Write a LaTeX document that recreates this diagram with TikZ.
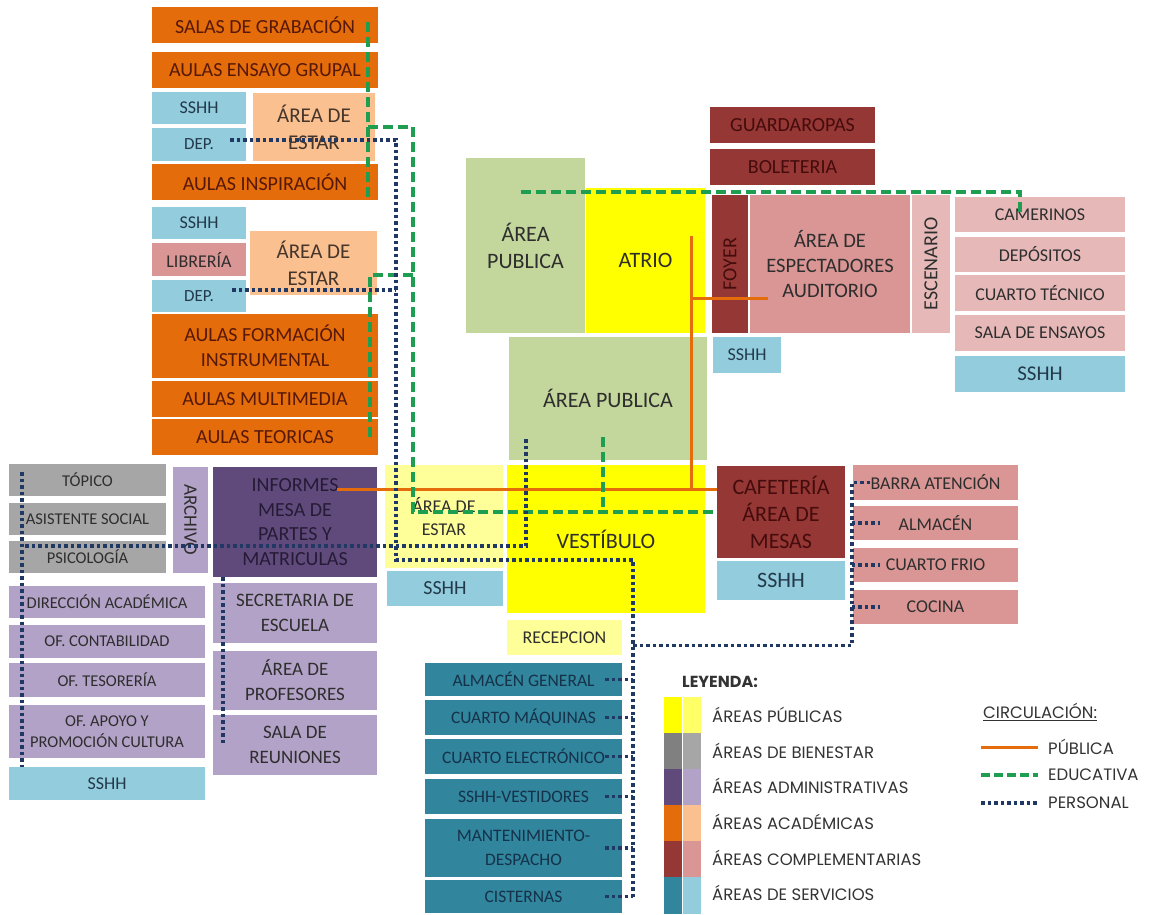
\documentclass[tikz,border=0pt]{standalone}
\usepackage{fontspec}
\setmainfont{Carlito}
\newfontfamily\leyfont{Poppins}

% colores de las areas
\definecolor{naranja}{HTML}{E46C0A}
\definecolor{naranjaclaro}{HTML}{FAC090}
\definecolor{celeste}{HTML}{93CDDD}
\definecolor{turquesa}{HTML}{31859C}
\definecolor{gris}{HTML}{A6A6A6}
\definecolor{grisosc}{HTML}{808080}
\definecolor{morado}{HTML}{604A7B}
\definecolor{lila}{HTML}{B3A2C7}
\definecolor{granate}{HTML}{953735}
\definecolor{rosa}{HTML}{D99694}
\definecolor{rosaclaro}{HTML}{E6B9B8}
\definecolor{amarillo}{HTML}{FFFF00}
\definecolor{amarilloclaro}{HTML}{FFFF99}
\definecolor{amarillob}{HTML}{FFFF66}
\definecolor{verdegris}{HTML}{C3D69B}
% colores de circulacion
\definecolor{lnaranja}{HTML}{E46C0A}
\definecolor{lverde}{HTML}{1E9E50}
\definecolor{lazul}{HTML}{1F3864}
% colores de texto
\definecolor{tgen}{HTML}{2E2E2E}
\definecolor{tnaranja}{HTML}{561808}
\definecolor{tmarron}{HTML}{45352B}
\definecolor{tazul}{HTML}{22394A}
\definecolor{tturq}{HTML}{15324A}
\definecolor{tgranate}{HTML}{440C0C}
\definecolor{tmorado}{HTML}{261B36}
\definecolor{tley}{HTML}{333333}

\begin{document}
\begin{tikzpicture}[x=1pt, y=-1pt,
    sala/.style n args={4}{rectangle, inner sep=0pt, align=center, text=tgen,
        minimum width=#3-#1, minimum height=#4-#2,
        at={({(#1+#3)/2},{(#2+#4)/2})}},
    fs/.style 2 args={font=\fontsize{#1}{#2}\selectfont},
    publica/.style={line width=3pt, lnaranja},
    educativa/.style={line width=3.5pt, lverde, dash pattern=on 10pt off 5pt},
    personal/.style={line width=3.5pt, lazul, dash pattern=on 3.5pt off 3pt},
    ley/.style={anchor=west, inner sep=0pt, text=tley, font=\leyfont\fontsize{16.5}{19}\selectfont}]

\useasboundingbox (0,0) rectangle (1151,914);

% areas academicas
\foreach \n/\xa/\ya/\xb/\yb/\t in {grab/152/7/378/43/{SALAS DE GRABACIÓN},
    ensayo/152/52/378/88/{AULAS ENSAYO GRUPAL},
    inspir/152/164/378/200/{AULAS INSPIRACIÓN},
    formac/152/314/378/378/{AULAS FORMACIÓN\\INSTRUMENTAL},
    multim/152/381/378/417/{AULAS MULTIMEDIA},
    teor/152/419/378/455/{AULAS TEORICAS}} {
    \node[sala={\xa}{\ya}{\xb}{\yb}, fill=naranja, text=tnaranja, fs={20}{25}] (\n) {\t};
}
\node[sala={253}{93}{375}{161}, fill=naranjaclaro, text=tmarron, fs={21}{27}] (estarA) {ÁREA DE\\ESTAR};
\node[sala={250}{231}{377}{295}, fill=naranjaclaro, text=tmarron, fs={21}{27}] (estarB) {ÁREA DE\\ESTAR};

% servicios higienicos y depositos
\foreach \n/\xa/\ya/\xb/\yb/\f/\t in {sshhA/152/92/246/124/18/SSHH,
    depA/152/128/246/161/17/DEP.,
    sshhB/152/207/246/239/18/SSHH,
    depB/152/280/246/312/17/DEP.,
    sshhC/713/337/781/373/18/SSHH,
    sshhD/955/356/1125/392/21/SSHH,
    sshhE/387/571/503/606/20/SSHH,
    sshhF/717/561/845/600/22/SSHH,
    sshhG/9/767/205/800/18/SSHH} {
    \node[sala={\xa}{\ya}{\xb}{\yb}, fill=celeste, text=tazul, fs={\f}{22}] (\n) {\t};
}

% areas complementarias
\node[sala={152}{243}{246}{276}, fill=rosa, fs={18}{22}] (libreria) {LIBRERÍA};
\node[sala={750}{195}{910}{333}, fill=rosa, fs={20.5}{25}] (espect) {ÁREA DE\\ESPECTADORES\\AUDITORIO};
\foreach \n/\xa/\ya/\xb/\yb/\t in {barra/853/465/1018/500/{BARRA ATENCIÓN},
    almac/853/506/1018/540/{ALMACÉN},
    frio/853/548/1018/582/{CUARTO FRIO},
    cocina/853/590/1018/624/{COCINA}} {
    \node[sala={\xa}{\ya}{\xb}{\yb}, fill=rosa, fs={18}{22}] (\n) {\t};
}
\foreach \n/\xa/\ya/\xb/\yb/\t in {camer/955/197/1125/232/{CAMERINOS},
    depos/955/237/1125/272/{DEPÓSITOS},
    tecn/955/275/1125/311/{CUARTO TÉCNICO},
    ensay/955/315/1125/351/{SALA DE ENSAYOS}} {
    \node[sala={\xa}{\ya}{\xb}{\yb}, fill=rosaclaro, fs={18}{22}] (\n) {\t};
}
\node[rectangle, inner sep=0pt, fill=rosaclaro, text=tgen, fs={20}{24}, minimum width=138, minimum height=38, rotate=90] (escen) at (931,264) {ESCENARIO};
\node[sala={710}{107}{875}{143}, fill=granate, text=tgranate, fs={20}{24}] (guard) {GUARDAROPAS};
\node[sala={710}{149}{875}{185}, fill=granate, text=tgranate, fs={20}{24}] (bolet) {BOLETERIA};
\node[rectangle, inner sep=0pt, fill=granate, text=tgranate, fs={20}{24}, minimum width=138, minimum height=36, rotate=90] (foyer) at (730,264) {FOYER};
\node[sala={717}{466}{845}{558}, fill=granate, text=tgranate, fs={22}{27}] (cafe) {CAFETERÍA\\ÁREA DE\\MESAS};

% areas publicas
\node[sala={466}{158}{585}{333}, fill=verdegris, fs={22}{27}] (pubA) {ÁREA\\PUBLICA};
\node[sala={586}{188}{705}{333}, fill=amarillo, fs={22}{27}] (atrio) {ATRIO};
\node[sala={509}{337}{707}{460}, fill=verdegris, fs={22}{27}] (pubB) {ÁREA PUBLICA};
\node[sala={507}{465}{705}{613}, fill=amarillo, fs={22}{27}] (vest) {VESTÍBULO};
\node[sala={385}{465}{503}{568}, fill=amarilloclaro, fs={18}{23}] (estarC) {ÁREA DE\\ESTAR};
\node[sala={507}{620}{622}{655}, fill=amarilloclaro, fs={18}{22}] (recep) {RECEPCION};

% areas de bienestar
\foreach \n/\xa/\ya/\xb/\yb/\t in {topico/9/464/166/496/{TÓPICO},
    asist/9/503/166/535/{ASISTENTE SOCIAL},
    psico/9/541/166/573/{PSICOLOGÍA}} {
    \node[sala={\xa}{\ya}{\xb}{\yb}, fill=gris, fs={16.5}{20}] (\n) {\t};
}

% areas administrativas
\foreach \n/\xa/\ya/\xb/\yb/\t in {direc/9/586/205/618/{DIRECCIÓN ACADÉMICA},
    conta/9/625/205/658/{OF. CONTABILIDAD},
    tesor/9/663/205/697/{OF. TESORERÍA},
    apoyo/9/705/205/758/{OF. APOYO Y\\PROMOCIÓN CULTURA}} {
    \node[sala={\xa}{\ya}{\xb}{\yb}, fill=lila, fs={16.5}{21}] (\n) {\t};
}
\foreach \n/\xa/\ya/\xb/\yb/\t in {secret/213/583/377/643/{SECRETARIA DE\\ESCUELA},
    profes/213/651/377/710/{ÁREA DE\\PROFESORES},
    reun/213/715/377/775/{SALA DE\\REUNIONES}} {
    \node[sala={\xa}{\ya}{\xb}{\yb}, fill=lila, fs={19}{25}] (\n) {\t};
}
\node[rectangle, inner sep=0pt, fill=lila, text=tgen, fs={19}{24}, minimum width=106, minimum height=35, rotate=-90] (archivo) at (190.5,520) {ARCHIVO};
\node[sala={213}{467}{377}{577}, fill=morado, text=tmorado, fs={20}{24.5}] (informes) {INFORMES\\MESA DE\\PARTES Y\\MATRICULAS};

% areas de servicios
\foreach \n/\xa/\ya/\xb/\yb/\t in {almgen/425/663/622/696/{ALMACÉN GENERAL},
    maq/425/700/622/735/{CUARTO MÁQUINAS},
    elec/425/739/622/774/{CUARTO ELECTRÓNICO},
    vestid/425/779/622/814/{SSHH-VESTIDORES},
    mant/425/819/622/877/{MANTENIMIENTO-\\DESPACHO},
    cist/425/880/622/913/{CISTERNAS}} {
    \node[sala={\xa}{\ya}{\xb}{\yb}, fill=turquesa, text=tturq, fs={17.5}{24}] (\n) {\t};
}

% circulacion publica
\coordinate (pubinf) at (337,489);
\coordinate (pubtop) at (691,236);
\coordinate (pubesp) at (768,298);
\draw[publica] (pubinf) -- ([yshift=23pt]cafe.west);
\draw[publica] (pubtop) -- (pubtop |- pubinf);
\draw[publica] (pubtop |- pubesp) -- (pubesp);

% circulacion educativa
\draw[educativa] ([xshift=-10pt,yshift=-15pt]grab.north east) -- ([xshift=-10pt,yshift=3pt]inspir.south east);
\draw[educativa] ([xshift=-7pt]estarA.east) -| ([xshift=-304pt]cafe.west) -- (cafe.west);
\draw[educativa] ([xshift=36pt,yshift=-12pt]estarB.east) -| ([xshift=-8pt]teor.east);
\draw[educativa] ([xshift=-5pt,yshift=23pt]pubB.south) -- ([xshift=-5pt]pubB.south |- cafe.west);
\draw[educativa] ([xshift=-5pt,yshift=-34pt]pubA.north) -| ([xshift=-20pt,yshift=-15pt]camer.north);

% circulacion del personal
\coordinate (perdepA) at (230,140);
\coordinate (perdepB) at (232,290);
\coordinate (percol) at (396,560);
\coordinate (perpsi) at (25,546);
\coordinate (perpub) at (526,438);
\draw[personal] (perdepA) -| (percol) -| ([xshift=11pt]cist.east);
\draw[personal] (perdepB) -- (perdepB -| percol);
\draw[personal] (perpsi) -| (perpub);
\draw[personal] ([xshift=13pt,yshift=8pt]topico.west) -- ([xshift=13pt]topico.west |- sshhG.north);
\draw[personal] ([xshift=10pt]informes.south west) -- ([xshift=10pt]informes.south west |- reun.west);
\draw[personal] ([xshift=11pt,yshift=-8pt]recep.east) -| ([xshift=-1pt]barra.west) -- ([xshift=17pt]barra.west);
\foreach \n in {almac,frio,cocina}
    \draw[personal] ([xshift=-1pt]\n.west) -- ([xshift=27pt]\n.west);
\foreach \n in {almgen,maq,elec,vestid,mant,cist}
    \draw[personal] ([xshift=-17pt]\n.east) -- ([xshift=11pt]\n.east);

% leyenda
\node[ley, font=\leyfont\bfseries\fontsize{16}{19}\selectfont] (leyenda) at (682,682) {LEYENDA:};
\foreach \i/\cA/\cB/\t in {0/amarillo/amarillob/{ÁREAS PÚBLICAS},
    1/grisosc/gris/{ÁREAS DE BIENESTAR},
    2/morado/lila/{ÁREAS ADMINISTRATIVAS},
    3/naranja/naranjaclaro/{ÁREAS ACADÉMICAS},
    4/granate/rosa/{ÁREAS COMPLEMENTARIAS},
    5/turquesa/celeste/{ÁREAS DE SERVICIOS}} {
    \node[rectangle, inner sep=0pt, fill=\cA, minimum width=18, minimum height=36.5, anchor=north west] (muA\i) at (664,{697+36*\i}) {};
    \node[rectangle, inner sep=0pt, fill=\cB, minimum width=18, minimum height=36.5, anchor=north west] (muB\i) at (muA\i.north east) {};
    \node[ley] (ley\i) at (712,{715+35.6*\i}) {\t};
}
\node[ley] (circ) at (983,712) {\underline{CIRCULACIÓN:}};
\node[ley] (lpub) at (1048,747) {PÚBLICA};
\node[ley] (ledu) at (1048,775) {EDUCATIVA};
\node[ley] (lper) at (1048,803) {PERSONAL};
\draw[publica] ([xshift=-67pt]lpub.west) -- ([xshift=-10pt]lpub.west);
\draw[educativa, dash pattern=on 9pt off 4pt] ([xshift=-67pt]ledu.west) -- ([xshift=-10pt]ledu.west);
\draw[personal] ([xshift=-67pt]lper.west) -- ([xshift=-10pt]lper.west);

\end{tikzpicture}
\end{document}
